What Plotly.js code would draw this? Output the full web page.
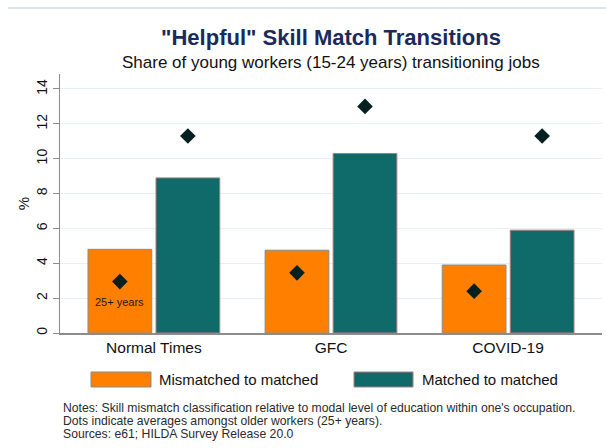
<!DOCTYPE html>
<html>
<head>
<meta charset="utf-8">
<script src="https://cdn.plot.ly/plotly-3.0.1.min.js"></script>
<style>html,body{margin:0;padding:0;background:#fff;}#chart{width:606px;height:448px;}</style>
</head>
<body>
<div id="chart"></div>
<script>
var categories = ["Normal Times", "GFC", "COVID-19"];
var mismatchedYoung = [4.8, 4.75, 3.9];
var matchedYoung = [8.9, 10.3, 5.9];
var mismatchedOlder = [2.95, 3.45, 2.4];
var matchedOlder = [11.3, 13.0, 11.3];
var seriesNames = ["Mismatched to matched", "Matched to matched"];
var yTicks = [0, 2, 4, 6, 8, 10, 12, 14];
var noteLines = [
  "Notes: Skill mismatch classification relative to modal level of education within one's occupation.",
  "Dots indicate averages amongst older workers (25+ years).",
  "Sources: e61; HILDA Survey Release 20.0"
];

var idx = categories.map(function(_, i){ return i; });
var barW = 0.36, half = 0.192;
var orange = "#FF8000", teal = "#0F6B69", dot = "#04201F";
var font = "Liberation Sans, Arial, Helvetica, sans-serif";

var traces = [
  {type:"bar", x: idx, y: mismatchedYoung, width: barW, offset: -half - barW/2,
   marker:{color: orange, line:{color:"#8a8a8a", width:1}}, name: seriesNames[0], showlegend:false, hoverinfo:"y"},
  {type:"bar", x: idx, y: matchedYoung, width: barW, offset: half - barW/2,
   marker:{color: teal, line:{color:"#b07a7a", width:1}}, name: seriesNames[1], showlegend:false, hoverinfo:"y"},
  {type:"scatter", mode:"markers", x: idx.map(function(i){return i - half;}), y: mismatchedOlder,
   marker:{symbol:"diamond", size:12, color: dot}, showlegend:false, hoverinfo:"y"},
  {type:"scatter", mode:"markers", x: idx.map(function(i){return i + half;}), y: matchedOlder,
   marker:{symbol:"diamond", size:12, color: dot}, showlegend:false, hoverinfo:"y"}
];

var annotations = [
  {xref:"paper", yref:"paper", x:0.5, y:1, yshift:12, xanchor:"center", yanchor:"middle", showarrow:false,
   text:"Share of young workers (15-24 years) transitioning jobs", font:{family:font, size:17, color:"#111"}},
  {xref:"x", yref:"y", x: 0 - half, y: 1.8, showarrow:false, text:"25+ years",
   font:{family:font, size:11, color:"#1a1a1a"}},
  {xref:"paper", yref:"paper", x:(157-60)/542, y:0, yshift:-46, xanchor:"left", yanchor:"middle", showarrow:false,
   text: seriesNames[0], font:{family:font, size:15, color:"#111"}},
  {xref:"paper", yref:"paper", x:(420-60)/542, y:0, yshift:-46, xanchor:"left", yanchor:"middle", showarrow:false,
   text: seriesNames[1], font:{family:font, size:15, color:"#111"}}
];
noteLines.forEach(function(t, i){
  annotations.push({xref:"paper", yref:"paper", x:(61-60)/542, y:0, yshift:-75 - i*13, xanchor:"left", yanchor:"middle",
    showarrow:false, text:t, font:{family:font, size:12.2, color:"#2a2a2a"}});
});

var shapes = [
  {type:"line", xref:"paper", yref:"paper", x0:(8-60)/542, x1:(606-60)/542, ysizemode:"pixel", yanchor:1, y0:66, y1:66,
   line:{color:"#d0dde2", width:1.5}},
  {type:"rect", xref:"paper", yref:"paper", x0:(91-60)/542, x1:(151-60)/542, ysizemode:"pixel", yanchor:0, y0:-39, y1:-54,
   fillcolor: orange, line:{color:"#8a8a8a", width:1}},
  {type:"rect", xref:"paper", yref:"paper", x0:(354-60)/542, x1:(413-60)/542, ysizemode:"pixel", yanchor:0, y0:-39, y1:-54,
   fillcolor: teal, line:{color:"#b07a7a", width:1}}
];

var layout = {
  width:606, height:448,
  margin:{l:60, r:4, t:74, b:115},
  paper_bgcolor:"#fff", plot_bgcolor:"#fff",
  title:{text:'"Helpful" Skill Match Transitions', font:{family:font, size:22, color:"#1B2A5C", weight:"bold"},
         xref:"paper", x:0.5, xanchor:"center", yref:"container", y:1-37/448, yanchor:"middle"},
  xaxis:{range:[-0.53, 2.53], tickvals: idx, ticktext: categories, showgrid:false, zeroline:false,
         showline:true, linecolor:"#8c8c8c", linewidth:1.5, ticks:"", tickfont:{family:font, size:15.5, color:"#111"},
         fixedrange:true},
  yaxis:{range:[0, 14.86], tickvals: yTicks, showgrid:true, gridcolor:"#E6F0F2", gridwidth:1, zeroline:false,
         showline:true, linecolor:"#8c8c8c", linewidth:1.5, ticks:"outside", ticklen:6, tickcolor:"#8c8c8c",
         tickangle:-90, tickfont:{family:font, size:14, color:"#111"},
         title:{text:"%", font:{family:font, size:15, color:"#111"}, standoff:0}, fixedrange:true},
  showlegend:false,
  annotations: annotations,
  shapes: shapes
};

Plotly.newPlot("chart", traces, layout, {displayModeBar:false, staticPlot:true});
</script>
</body>
</html>
